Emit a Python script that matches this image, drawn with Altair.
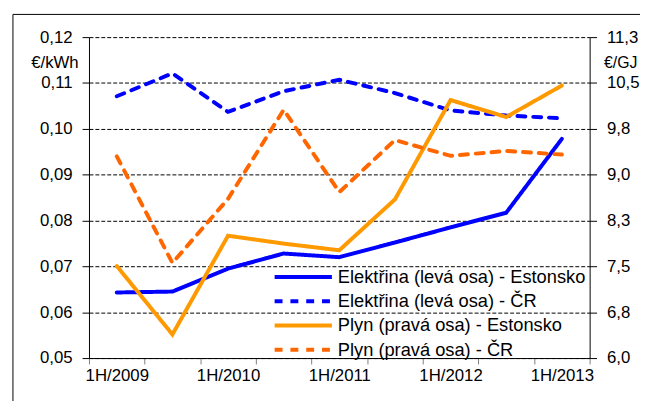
import altair as alt
import pandas as pd

periods = ["1H/2009", "2H/2009", "1H/2010", "2H/2010", "1H/2011",
           "2H/2011", "1H/2012", "2H/2012", "1H/2013"]
elec_ee = [0.0643, 0.0645, 0.0695, 0.0728, 0.0720, 0.0752, 0.0785, 0.0817, 0.0978]
elec_cz = [0.1071, 0.1121, 0.1037, 0.1082, 0.1107, 0.1078, 0.1040, 0.1029, 0.1023]
gas_ee = [7.52, 6.39, 8.02, 7.89, 7.78, 8.62, 10.26, 9.98, 10.50]
gas_cz = [9.33, 7.57, 8.63, 10.10, 8.74, 9.60, 9.34, 9.42, 9.36]

series_names = ["Elektřina (levá osa) - Estonsko", "Elektřina (levá osa) - ČR",
                "Plyn (pravá osa) - Estonsko", "Plyn (pravá osa) - ČR"]
series_colors = ["#0000FF", "#0000FF", "#FF9900", "#FF6600"]
series_dashes = [[1, 0], [8, 8], [1, 0], [8, 8]]

left_ticks = [0.05, 0.06, 0.07, 0.08, 0.09, 0.10, 0.11, 0.12]
right_min, right_max = 6.0, 11.3
right_ticks = [right_min + i * (right_max - right_min) / 7 for i in range(8)]

FONT = "Liberation Sans"

elec = pd.DataFrame({
    "period": periods * 2,
    "value": elec_ee + elec_cz,
    "series": [series_names[0]] * 9 + [series_names[1]] * 9,
})
gas = pd.DataFrame({
    "period": periods * 2,
    "value": gas_ee + gas_cz,
    "series": [series_names[2]] * 9 + [series_names[3]] * 9,
})

x_enc = alt.X("period:N", sort=periods, title=None,
              scale=alt.Scale(paddingInner=0, paddingOuter=0),
              axis=alt.Axis(labelExpr="indexof(datum.label, '1H') == 0 ? datum.label : ''",
                            labelAngle=0, tickBand="extent", labelFontSize=17,
                            labelFont=FONT, labelColor="#000", tickColor="#808080",
                            tickSize=6, labelPadding=4, domainColor="#000",
                            domainWidth=1, grid=False, labelOverlap=False))

color_enc = alt.Color("series:N", title=None,
                      scale=alt.Scale(domain=series_names, range=series_colors),
                      legend=alt.Legend(orient="none", legendX=205, legendY=231,
                                        symbolType="M-2.9,0H2.9", symbolSize=400,
                                        symbolStrokeWidth=4, labelFontSize=18.5,
                                        labelFont=FONT, labelColor="#000",
                                        rowPadding=2.5, labelOffset=23, padding=0,
                                        labelLimit=400))
dash_enc = alt.StrokeDash("series:N", title=None,
                          scale=alt.Scale(domain=series_names, range=series_dashes))

left = alt.Chart(elec).mark_line(strokeWidth=4, strokeCap="round", strokeJoin="miter").encode(
    x=x_enc,
    y=alt.Y("value:Q", title="€/kWh",
            scale=alt.Scale(domain=[0.05, 0.12], nice=False, zero=False),
            axis=alt.Axis(values=left_ticks, orient="left",
                          labelExpr="replace(format(datum.value, '.2f'), '.', ',')",
                          labelFontSize=17, labelFont=FONT, labelColor="#000",
                          tickColor="#000", tickSize=7, labelPadding=10,
                          domainColor="#000", grid=True, gridColor="#000",
                          gridDash=[4, 2], gridWidth=1, gridOpacity=1,
                          titleAngle=0, titleX=-35, titleY=26, titleAlign="center",
                          titleBaseline="middle", titleFontSize=17, titleFont=FONT,
                          titleFontWeight="normal", titleColor="#000")),
    color=color_enc,
    strokeDash=dash_enc,
)

right = alt.Chart(gas).mark_line(strokeWidth=4, strokeCap="round", strokeJoin="miter").encode(
    x=x_enc,
    y=alt.Y("value:Q", title="€/GJ",
            scale=alt.Scale(domain=[right_min, right_max], nice=False, zero=False),
            axis=alt.Axis(values=right_ticks, orient="right",
                          labelExpr="replace(format(datum.value, '.1f'), '.', ',')",
                          labelFontSize=17, labelFont=FONT, labelColor="#000",
                          tickColor="#000", tickSize=7, labelPadding=10,
                          domainColor="#000", grid=False,
                          titleAngle=0, titleX=31, titleY=26, titleAlign="center",
                          titleBaseline="middle", titleFontSize=16, titleFont=FONT,
                          titleFontWeight="normal", titleColor="#000")),
    color=color_enc,
    strokeDash=dash_enc,
)

frame_left = alt.Chart().mark_rule(color="#000", strokeWidth=1).encode(
    x=alt.value(-77), y=alt.value(-23), y2=alt.value(380))
frame_top = alt.Chart().mark_rule(color="#000", strokeWidth=1).encode(
    x=alt.value(-77), x2=alt.value(600), y=alt.value(-23))

chart = alt.layer(frame_left, frame_top, left, right).resolve_scale(
    y="independent"
).properties(
    width=507, height=325,
    autosize=alt.AutoSizeParams(type="none"),
    padding={"left": 82, "top": 27, "right": 51, "bottom": 41},
).configure_view(stroke=None)

chart.save("out.html", embed_options={"renderer": "svg", "actions": False})
